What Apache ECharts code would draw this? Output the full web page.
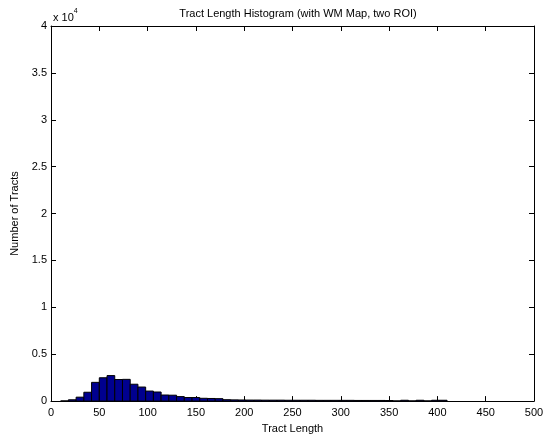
<!DOCTYPE html>
<html>
<head>
<meta charset="utf-8">
<script src="https://cdn.jsdelivr.net/npm/echarts@6/dist/echarts.min.js"></script>
<style>html,body{margin:0;padding:0;background:#fff}#c{width:547px;height:439px}</style>
</head>
<body>
<div id="c"></div>
<script>
// Histogram data (bin centers, bin width 8)
var binCenters = [14,22,30,38,46,54,62,70,78,86,94,102,110,118,126,134,142,150,158,166,174,182,190,198,206,214,222,230,238,246,254,262,270,278,286,294,302,310,318,326,334,342,350,358,366,374,382,390,398,406];
var binWidth = 8;
var counts = [20,140,420,945,2000,2490,2720,2300,2320,1800,1500,1070,970,650,630,480,380,380,300,280,260,150,130,120,110,110,100,100,100,90,90,90,90,80,80,80,80,80,70,70,70,70,60,20,90,20,90,20,90,90];
var xTicks = [0,50,100,150,200,250,300,350,400,450,500];
var yTicks = [0,0.5,1,1.5,2,2.5,3,3.5,4];
var titleText = 'Tract Length Histogram (with WM Map, two ROI)';
var xLabel = 'Tract Length';
var yLabel = 'Number of Tracts';

var FONT = 'Liberation Sans, Arial, sans-serif';
var data = binCenters.map(function(c, i){ return [c - binWidth/2, c + binWidth/2, counts[i]]; });

var chart = echarts.init(document.getElementById('c'), null, {renderer:'canvas'});
var axisCommon = {
  min: 0, max: 500, interval: 50,
  axisLine: {show: true, onZero: false, lineStyle: {color: '#000', width: 1}},
  axisTick: {show: true, inside: true, length: 5, lineStyle: {color: '#000'}},
  splitLine: {show: false}
};
chart.setOption({
  animation: false,
  backgroundColor: '#fff',
  title: {
    text: titleText, left: 293, top: 3, textAlign: 'center',
    textStyle: {fontFamily: FONT, fontSize: 11, fontWeight: 'normal', color: '#000'}
  },
  grid: {left: 51, top: 26, right: 13, bottom: 32, containLabel: false},
  xAxis: [
    Object.assign({}, axisCommon, {
      type: 'value', position: 'bottom',
      name: xLabel, nameLocation: 'middle', nameGap: 20,
      nameTextStyle: {fontFamily: FONT, fontSize: 11, color: '#000'},
      axisLabel: {fontFamily: FONT, fontSize: 11, color: '#000', margin: 6}
    }),
    Object.assign({}, axisCommon, {
      type: 'value', position: 'top', axisLabel: {show: false}
    })
  ],
  yAxis: [
    {
      type: 'value', position: 'left', min: 0, max: 40000, interval: 5000,
      name: yLabel, nameLocation: 'middle', nameGap: 28,
      nameTextStyle: {fontFamily: FONT, fontSize: 11, color: '#000'},
      axisLine: {show: true, onZero: false, lineStyle: {color: '#000'}},
      axisTick: {show: true, inside: true, length: 5, lineStyle: {color: '#000'}},
      splitLine: {show: false},
      axisLabel: {fontFamily: FONT, fontSize: 11, color: '#000', margin: 4,
        formatter: function(v){ return String(yTicks[Math.round(v/5000)]); }}
    },
    {
      type: 'value', position: 'right', min: 0, max: 40000, interval: 5000,
      axisLine: {show: true, onZero: false, lineStyle: {color: '#000'}},
      axisTick: {show: true, inside: true, length: 5, lineStyle: {color: '#000'}},
      splitLine: {show: false},
      axisLabel: {show: false}
    }
  ],
  graphic: [{
    type: 'text', left: 53, top: 8,
    style: {
      text: '{a|x 10}{b|4}',
      rich: {
        a: {fontFamily: FONT, fontSize: 11, fill: '#000', padding: [4,0,0,0]},
        b: {fontFamily: FONT, fontSize: 7, fill: '#000', verticalAlign: 'top'}
      }
    }
  }],
  series: [{
    type: 'custom',
    xAxisIndex: 0, yAxisIndex: 0,
    data: data,
    encode: {x: [0,1], y: 2},
    renderItem: function(params, api){
      var p0 = api.coord([api.value(0), api.value(2)]);
      var p1 = api.coord([api.value(1), 0]);
      return {
        type: 'rect',
        shape: {x: p0[0], y: p0[1], width: p1[0]-p0[0], height: p1[1]-p0[1]},
        style: {fill: '#00008F', stroke: '#000', lineWidth: 1}
      };
    }
  }]
});
</script>
</body>
</html>
